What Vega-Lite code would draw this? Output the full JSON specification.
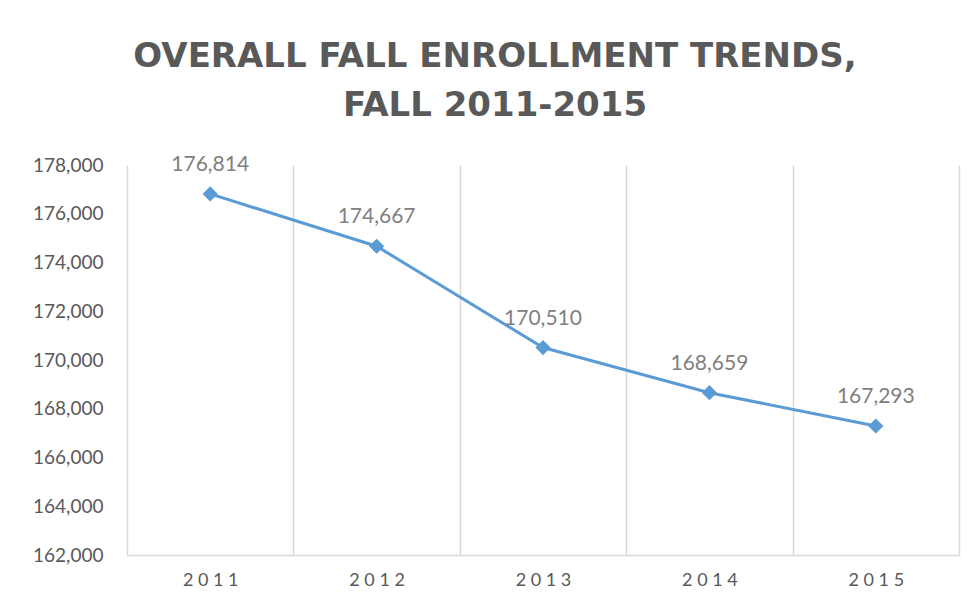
{
  "$schema": "https://vega.github.io/schema/vega-lite/v6.json",
  "width": 832,
  "height": 390,
  "autosize": {"type": "none"},
  "padding": {"left": 127, "top": 165, "right": 18, "bottom": 54},
  "background": "white",
  "config": {"view": {"stroke": null}, "font": "Lato"},
  "title": {
    "text": ["OVERALL FALL ENROLLMENT TRENDS,", "FALL 2011-2015"],
    "font": "DejaVu Sans",
    "fontSize": 34,
    "fontWeight": "bold",
    "color": "#595959",
    "anchor": "middle",
    "dx": -48,
    "offset": 31,
    "lineHeight": 49
  },
  "data": {
    "values": [
      {"year": "2011", "enrollment": 176814},
      {"year": "2012", "enrollment": 174667},
      {"year": "2013", "enrollment": 170510},
      {"year": "2014", "enrollment": 168659},
      {"year": "2015", "enrollment": 167293}
    ]
  },
  "encoding": {
    "x": {"field": "year", "type": "ordinal", "scale": {"paddingInner": 0, "paddingOuter": 0}, "axis": {
      "orient": "bottom", "title": null, "labelAngle": 0, "ticks": false, "grid": true,
      "tickBand": "extent", "gridColor": "#d9d9d9", "gridWidth": 1.5,
      "domain": true, "domainColor": "#d9d9d9", "domainWidth": 1.5,
      "labelFontSize": 18, "labelColor": "#595959", "labelPadding": 16,
      "labelExpr": "join(split(datum.label, ''), ' ')"
    }},
    "y": {"field": "enrollment", "type": "quantitative", "scale": {"domain": [162000, 178000], "nice": false, "zero": false}, "axis": {
      "orient": "left", "title": null, "grid": false, "domain": false, "ticks": false,
      "values": [162000, 164000, 166000, 168000, 170000, 172000, 174000, 176000, 178000],
      "labelExpr": "format(datum.value, ',')", "labelFontSize": 19, "labelColor": "#595959", "labelPadding": 24
    }}
  },
  "layer": [
    {
      "mark": {"type": "line", "color": "#5b9bd5", "strokeWidth": 3}
    },
    {
      "mark": {"type": "point", "shape": "diamond", "filled": true, "size": 230, "color": "#5b9bd5", "opacity": 1}
    },
    {
      "mark": {"type": "text", "dy": -29, "fontSize": 21, "color": "#808080"},
      "encoding": {
        "text": {"field": "enrollment", "type": "quantitative", "format": ","}
      }
    }
  ]
}
